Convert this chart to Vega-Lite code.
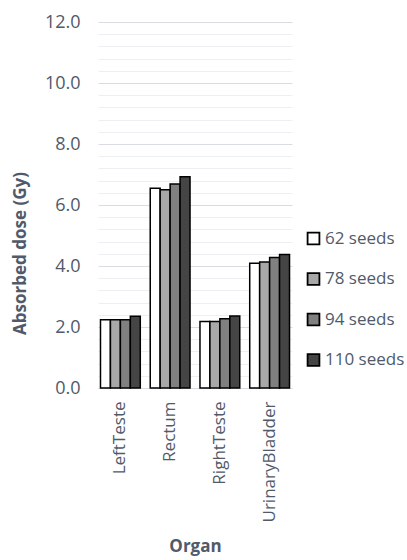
{
  "$schema": "https://vega.github.io/schema/vega-lite/v6.json",
  "autosize": "none",
  "width": 194,
  "height": 366,
  "padding": {"left": 98, "top": 22, "right": 115, "bottom": 172},
  "background": "white",
  "config": {
    "view": {"stroke": null},
    "font": "Open Sans",
    "axis": {"labelColor": "#505a6a", "titleColor": "#505a6a", "labelFont": "Open Sans", "titleFont": "Open Sans"},
    "legend": {"labelFont": "Open Sans"}
  },
  "data": {
    "values": [
      {"organ": "LeftTeste", "seeds": "62 seeds", "dose": 2.24},
      {"organ": "LeftTeste", "seeds": "78 seeds", "dose": 2.24},
      {"organ": "LeftTeste", "seeds": "94 seeds", "dose": 2.24},
      {"organ": "LeftTeste", "seeds": "110 seeds", "dose": 2.35},
      {"organ": "Rectum", "seeds": "62 seeds", "dose": 6.55},
      {"organ": "Rectum", "seeds": "78 seeds", "dose": 6.5},
      {"organ": "Rectum", "seeds": "94 seeds", "dose": 6.69},
      {"organ": "Rectum", "seeds": "110 seeds", "dose": 6.93},
      {"organ": "RightTeste", "seeds": "62 seeds", "dose": 2.18},
      {"organ": "RightTeste", "seeds": "78 seeds", "dose": 2.18},
      {"organ": "RightTeste", "seeds": "94 seeds", "dose": 2.27},
      {"organ": "RightTeste", "seeds": "110 seeds", "dose": 2.36},
      {"organ": "UrinaryBladder", "seeds": "62 seeds", "dose": 4.09},
      {"organ": "UrinaryBladder", "seeds": "78 seeds", "dose": 4.13},
      {"organ": "UrinaryBladder", "seeds": "94 seeds", "dose": 4.28},
      {"organ": "UrinaryBladder", "seeds": "110 seeds", "dose": 4.38}
    ]
  },
  "mark": {"type": "bar", "stroke": "black", "strokeWidth": 1.5},
  "encoding": {
    "x": {
      "field": "organ", "type": "nominal", "sort": null,
      "scale": {"paddingInner": 0.2, "paddingOuter": 0.05},
      "axis": {
        "title": "Organ", "titleFontSize": 17, "titleFontWeight": "bold",
        "labelAngle": -90, "labelFontSize": 17, "labelPadding": 13,
        "ticks": false, "domain": true, "domainColor": "#d9dde3",
        "titleY": 158, "titleBaseline": "middle"
      }
    },
    "xOffset": {"field": "seeds", "type": "nominal", "sort": ["62 seeds", "78 seeds", "94 seeds", "110 seeds"]},
    "y": {
      "field": "dose", "type": "quantitative",
      "scale": {"domain": [0, 12], "nice": false},
      "axis": {
        "title": "Absorbed dose (Gy)", "titleFontSize": 17, "titleFontWeight": "bold",
        "titleX": -78, "titleY": 231, "titleBaseline": "middle",
        "values": [0, 0.4, 0.8, 1.2, 1.6, 2, 2.4, 2.8, 3.2, 3.6, 4, 4.4, 4.8, 5.2, 5.6, 6, 6.4, 6.8, 7.2, 7.6, 8, 8.4, 8.8, 9.2, 9.6, 10, 10.4, 10.8, 11.2, 11.6, 12],
        "labelExpr": "abs(datum.value/2 - round(datum.value/2)) < 0.001 ? format(datum.value, '.1f') : ''",
        "labelFontSize": 18, "labelPadding": 18,
        "ticks": false, "domain": false,
        "gridColor": {"condition": {"test": "abs(datum.value/2 - round(datum.value/2)) < 0.001", "value": "#d9dde3"}, "value": "#eeeff2"},
        "gridWidth": 1
      }
    },
    "fill": {
      "field": "seeds", "type": "nominal",
      "sort": ["62 seeds", "78 seeds", "94 seeds", "110 seeds"],
      "scale": {"domain": ["62 seeds", "78 seeds", "94 seeds", "110 seeds"], "range": ["#ffffff", "#a8a8a8", "#808080", "#454545"]},
      "legend": {
        "title": null, "orient": "none", "legendX": 207, "legendY": 208,
        "symbolType": "square", "symbolSize": 140, "symbolStrokeColor": "black", "symbolStrokeWidth": 1.8,
        "labelFontSize": 17, "labelColor": "#505a6a", "rowPadding": 19.5, "labelOffset": 3
      }
    }
  }
}
